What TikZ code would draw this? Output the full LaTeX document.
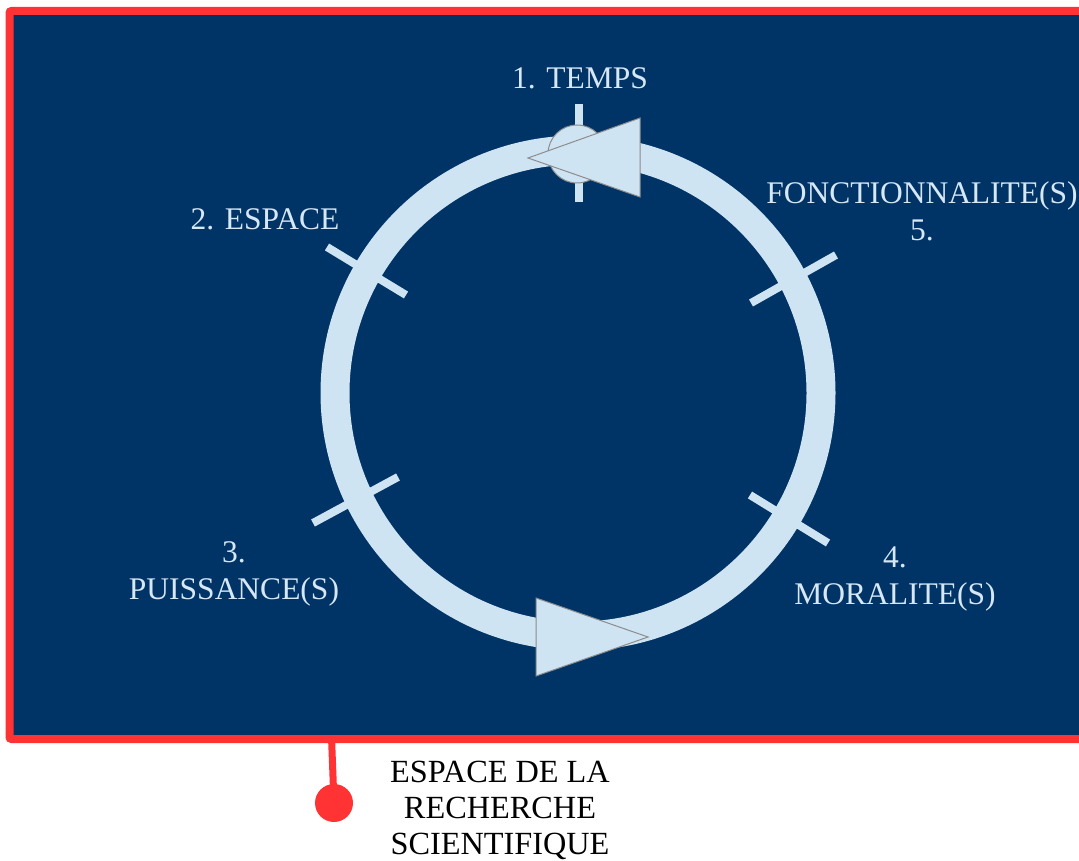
\documentclass[tikz,border=0pt]{standalone}
\usepackage{fontspec}
\setmainfont{Liberation Serif}
\usetikzlibrary{calc}
\definecolor{navy}{HTML}{003366}
\definecolor{ringblue}{HTML}{CFE4F3}
\definecolor{labelblue}{HTML}{D6E7F5}
\definecolor{frame}{HTML}{FF3333}
\definecolor{edge}{HTML}{8C8C8C}
\begin{document}
\begin{tikzpicture}[x=1pt,y=-1pt,
  lbl/.style={text=labelblue,font=\fontsize{31.5}{37}\selectfont,align=center,inner sep=0pt},
  blk/.style={text=black,font=\fontsize{32.3}{36}\selectfont,align=center,inner sep=0pt},
  tick/.style={draw=ringblue,line width=8pt},
  arrowtri/.style={fill=ringblue,draw=edge,line width=1pt}]
\useasboundingbox (0,0) rectangle (1079,861);
\clip (0,0) rectangle (1079,861);
% frame
\draw[fill=navy,draw=frame,line width=8pt,rounded corners=2pt] (9.5,11) rectangle (1100,739);
% ring
\coordinate (c) at (578,393);
\draw[draw=ringblue,line width=29pt] (c) circle[radius=243];
% ticks
\draw[tick] (579,104) -- (579,202);
\draw[tick] (327,247) -- (406,295);
\draw[tick] (751,303) -- (836,255);
\draw[tick] (313,523) -- (398,477);
\draw[tick] (750,495) -- (828,543);
% top knob and arrows
\node[circle,minimum size=58pt,inner sep=0pt,fill=ringblue,draw=edge,line width=1pt] (knob) at (577,154) {};
\draw[arrowtri] (528,158) -- (640,118) -- (640,197) -- cycle;
\draw[arrowtri] (536,598) -- (536,676) -- (648,637) -- cycle;
% labels
\node[lbl] (t1) at (580,78) {1. TEMPS};
\node[lbl] (t2) at (265,219) {2. ESPACE};
\node[lbl] (t5) at (922,211) {FONCTIONNALITE(S)\\5.};
\node[lbl] (t3) at (234,574) {3.\\PUISSANCE(S)};
\node[lbl] (t4) at (895,579) {4.\\MORALITE(S)};
% caption
\node[blk] (cap) at (500,810) {ESPACE DE LA\\RECHERCHE\\SCIENTIFIQUE};
\coordinate (lt) at (331.5,737);
\node[circle,fill=frame,minimum size=38pt,inner sep=0pt] (dot) at (334,803) {};
\draw[draw=frame,line width=7pt] (lt) -- (dot.center);
\end{tikzpicture}
\end{document}
